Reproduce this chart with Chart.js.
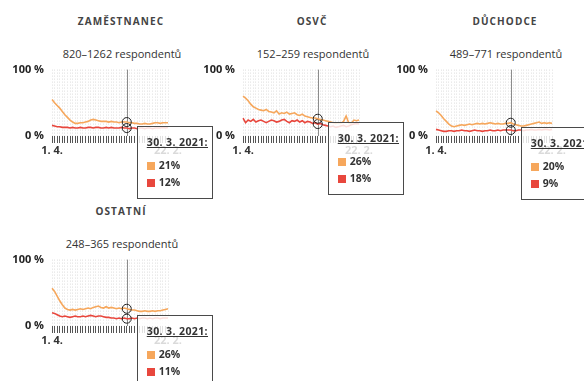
<!DOCTYPE html>
<html lang="cs">
<head>
<meta charset="utf-8">
<script src="https://cdn.jsdelivr.net/npm/chart.js@4.4.1/dist/chart.umd.min.js"></script>
<style>
  html, body { margin: 0; padding: 0; background: #fff; }
  body { width: 584px; height: 381px; position: relative; overflow: hidden; font-family: 'Open Sans', sans-serif; color: #333; }
  .panel { position: absolute; width: 191px; height: 190px; }
  .panel h3 { position: absolute; left: 121px; top: 14px; transform: translateX(-50%); margin: 0; font-size: 10px; line-height: 14px; font-weight: 700; letter-spacing: 1.1px; white-space: nowrap; color: #444; }
  .panel .sub { position: absolute; left: 122px; top: 46px; transform: translateX(-50%); font-size: 11px; line-height: 15px; white-space: nowrap; color: #333; }
  .panel canvas { position: absolute; left: 0; top: 55px; }
  .tip { position: absolute; z-index: 10; width: 76px; height: 73px; box-sizing: border-box; border: 1px solid #4a4a4a; background: rgba(255,255,255,0.82); display: none; }
  .tip .t { position: absolute; left: 9px; top: 7px; font-size: 10.5px; line-height: 16px; font-weight: 700; letter-spacing: 0.4px; text-decoration: underline; white-space: nowrap; color: #333; }
  .tip .row { position: absolute; left: 9px; font-size: 10.5px; line-height: 14px; font-weight: 700; color: #333; white-space: nowrap; }
  .tip .row i { display: inline-block; width: 8px; height: 8px; margin-right: 4px; vertical-align: -1px; }
</style>
</head>
<body>
<script>
// termíny vln šetření
const dates = ['1. 4. 2020', '8. 4. 2020', '15. 4. 2020', '22. 4. 2020', '29. 4. 2020', '6. 5. 2020',
  '13. 5. 2020', '20. 5. 2020', '27. 5. 2020', '10. 6. 2020', '24. 6. 2020', '22. 7. 2020',
  '26. 8. 2020', '9. 9. 2020', '23. 9. 2020', '7. 10. 2020', '21. 10. 2020', '4. 11. 2020',
  '18. 11. 2020', '2. 12. 2020', '16. 12. 2020', '6. 1. 2021', '20. 1. 2021', '3. 2. 2021',
  '17. 2. 2021', '24. 2. 2021', '3. 3. 2021', '10. 3. 2021', '17. 3. 2021', '30. 3. 2021',
  '13. 4. 2021', '27. 4. 2021', '11. 5. 2021', '25. 5. 2021', '8. 6. 2021', '22. 6. 2021',
  '20. 7. 2021', '17. 8. 2021', '14. 9. 2021', '12. 10. 2021', '9. 11. 2021', '23. 11. 2021',
  '7. 12. 2021', '11. 1. 2022', '25. 1. 2022', '22. 2. 2022'];

const groups = ['ZAMĚSTNANEC', 'OSVČ', 'DŮCHODCE', 'OSTATNÍ'];
const respondents = ['820–1262 respondentů', '152–259 respondentů', '489–771 respondentů', '248–365 respondentů'];
const selectedDate = '30. 3. 2021';
const yTicks = [0, 100];

// podíly v % (oranžová a červená řada) pro každou skupinu
const zamOrange = [55, 50, 46, 42, 37, 32, 28, 24, 21, 19, 19, 20, 20, 21, 22, 24, 25, 24, 23, 22,
  22, 22, 21, 22, 21, 21, 20, 21, 21, 21, 20, 20, 19, 19, 18, 18, 19, 18, 18, 19, 20, 20, 19, 20, 20, 20];
const zamRed = [16, 15, 14, 14, 13, 13, 13, 12, 13, 12, 12, 13, 12, 12, 13, 13, 12, 13, 13, 12,
  12, 13, 12, 13, 12, 12, 12, 13, 12, 12, 11, 12, 12, 11, 12, 12, 11, 12, 12, 11, 12, 12, 12, 13, 12, 13];

const osvcOrange = [60, 57, 53, 48, 44, 42, 40, 39, 38, 40, 37, 36, 35, 38, 33, 35, 34, 36, 33, 34,
  35, 32, 31, 33, 30, 29, 28, 27, 27, 26, 25, 24, 23, 22, 21, 20, 19, 20, 19, 22, 30, 20, 19, 24, 23, 24];
const osvcRed = [27, 20, 24, 22, 25, 21, 23, 24, 22, 20, 22, 24, 23, 21, 22, 24, 25, 22, 20, 23,
  22, 24, 21, 23, 20, 22, 21, 19, 20, 18, 19, 17, 16, 15, 14, 15, 13, 14, 15, 16, 14, 15, 17, 18, 19, 18];

const duchOrange = [38, 35, 31, 26, 22, 18, 15, 14, 15, 16, 17, 16, 17, 18, 17, 18, 19, 18, 19, 18,
  19, 20, 19, 18, 19, 18, 18, 19, 19, 20, 18, 17, 16, 15, 15, 16, 17, 18, 19, 20, 21, 19, 20, 19, 20, 19];
const duchRed = [10, 9, 8, 7, 7, 8, 8, 7, 8, 8, 9, 8, 8, 7, 8, 9, 8, 8, 7, 8,
  8, 9, 8, 8, 9, 8, 9, 9, 9, 9, 8, 8, 9, 9, 8, 9, 9, 10, 9, 9, 10, 9, 10, 10, 9, 10];

const ostOrange = [57, 52, 45, 38, 32, 27, 25, 24, 25, 24, 25, 26, 25, 26, 27, 26, 28, 29, 30, 28,
  27, 29, 27, 28, 27, 26, 27, 26, 27, 26, 25, 24, 24, 23, 22, 22, 23, 22, 22, 23, 22, 23, 23, 24, 25, 26];
const ostRed = [20, 19, 17, 15, 14, 15, 14, 13, 14, 15, 14, 14, 15, 14, 15, 16, 15, 14, 15, 15,
  14, 13, 13, 12, 12, 11, 12, 11, 12, 11, 11, 12, 11, 12, 11, 12, 12, 11, 12, 11, 12, 12, 11, 12, 12, 12];

const series = [[zamOrange, zamRed], [osvcOrange, osvcRed], [duchOrange, duchRed], [ostOrange, ostRed]];

const ORANGE = '#f6a75c';
const RED = '#e8473d';
const panelPos = [[0, 0], [191, 0], [384, 0], [0, 190]];

Chart.defaults.font.family = "'Open Sans', sans-serif";

const shortDate = d => d.replace(/ \d{4}$/, '');

// svislá čára u vybraného termínu
const hoverLine = {
  id: 'hoverLine',
  beforeDatasetsDraw(chart) {
    const active = chart.getActiveElements();
    if (!active.length) return;
    const x = Math.round(active[0].element.x) + 0.5;
    const { top, bottom } = chart.chartArea;
    const ctx = chart.ctx;
    ctx.save();
    ctx.strokeStyle = '#8c8c8c';
    ctx.lineWidth = 1;
    ctx.beginPath();
    ctx.moveTo(x, top);
    ctx.lineTo(x, bottom);
    ctx.stroke();
    ctx.restore();
  }
};

// HTML tooltip
function externalTip(context) {
  const { chart, tooltip } = context;
  const tip = chart.canvas.parentNode.querySelector('.tip');
  if (tooltip.opacity === 0) {
    tip.style.display = 'none';
    return;
  }
  let html = '<div class="t">' + tooltip.title[0] + '</div>';
  tooltip.dataPoints.forEach((dp, i) => {
    html += '<div class="row" style="top:' + (31 + i * 17) + 'px"><i style="background:' +
      dp.dataset.borderColor + '"></i>' + dp.raw + '%</div>';
  });
  tip.innerHTML = html;
  tip.style.left = (chart.canvas.offsetLeft + tooltip.caretX + 10) + 'px';
  tip.style.top = (chart.canvas.offsetTop + tooltip.caretY + 1) + 'px';
  tip.style.display = 'block';
}

groups.forEach((name, g) => {
  const panel = document.createElement('div');
  panel.className = 'panel';
  panel.style.left = panelPos[g][0] + 'px';
  panel.style.top = panelPos[g][1] + 'px';
  panel.innerHTML = '<h3>' + name + '</h3><div class="sub">' + respondents[g] + '</div>' +
    '<canvas width="191" height="105"></canvas><div class="tip"></div>';
  document.body.appendChild(panel);

  const canvas = panel.querySelector('canvas');
  const chart = new Chart(canvas, {
    type: 'line',
    data: {
      labels: dates,
      datasets: [
        { data: series[g][0], borderColor: ORANGE, backgroundColor: ORANGE },
        { data: series[g][1], borderColor: RED, backgroundColor: RED }
      ]
    },
    options: {
      responsive: false,
      animation: false,
      devicePixelRatio: 1,
      events: [],
      layout: { padding: { top: 4, right: 23, left: 0, bottom: 0 } },
      interaction: { mode: 'index', intersect: false },
      elements: {
        line: { borderWidth: 1.6, tension: 0 },
        point: { radius: 0, hoverRadius: 4.5, hoverBorderWidth: 1, hoverBorderColor: '#222', hoverBackgroundColor: 'rgba(255,255,255,0)' }
      },
      plugins: {
        legend: { display: false },
        tooltip: {
          enabled: false,
          position: 'average',
          external: externalTip,
          callbacks: { title: items => items[0].label + ':' }
        }
      },
      scales: {
        x: {
          grid: { color: '#dedede', lineWidth: 1, tickColor: '#555', tickLength: 7, tickBorderDash: [] },
          border: { display: false, dash: [1, 2] },
          ticks: {
            autoSkip: false,
            maxRotation: 0,
            padding: 1,
            color: '#333',
            font: { size: 11, weight: 'bold' },
            callback: (v, i, t) => (i === 0 || i === t.length - 1) ? shortDate(dates[i]) : ''
          },
          afterFit: s => { s.height = 24; }
        },
        y: {
          min: 0,
          max: 100,
          afterBuildTicks: s => { s.ticks = yTicks.map(v => ({ value: v })); },
          grid: { display: false, drawTicks: false },
          border: { display: false },
          ticks: { padding: 8, color: '#222', font: { size: 11, weight: 'bold' }, callback: v => v + ' %' },
          afterFit: s => { s.width = 52; }
        }
      }
    },
    plugins: [hoverLine]
  });

  const idx = dates.indexOf(selectedDate);
  const active = [{ datasetIndex: 0, index: idx }, { datasetIndex: 1, index: idx }];
  chart.setActiveElements(active);
  chart.tooltip.setActiveElements(active, { x: 0, y: 0 });
  chart.update();
});
</script>
</body>
</html>
